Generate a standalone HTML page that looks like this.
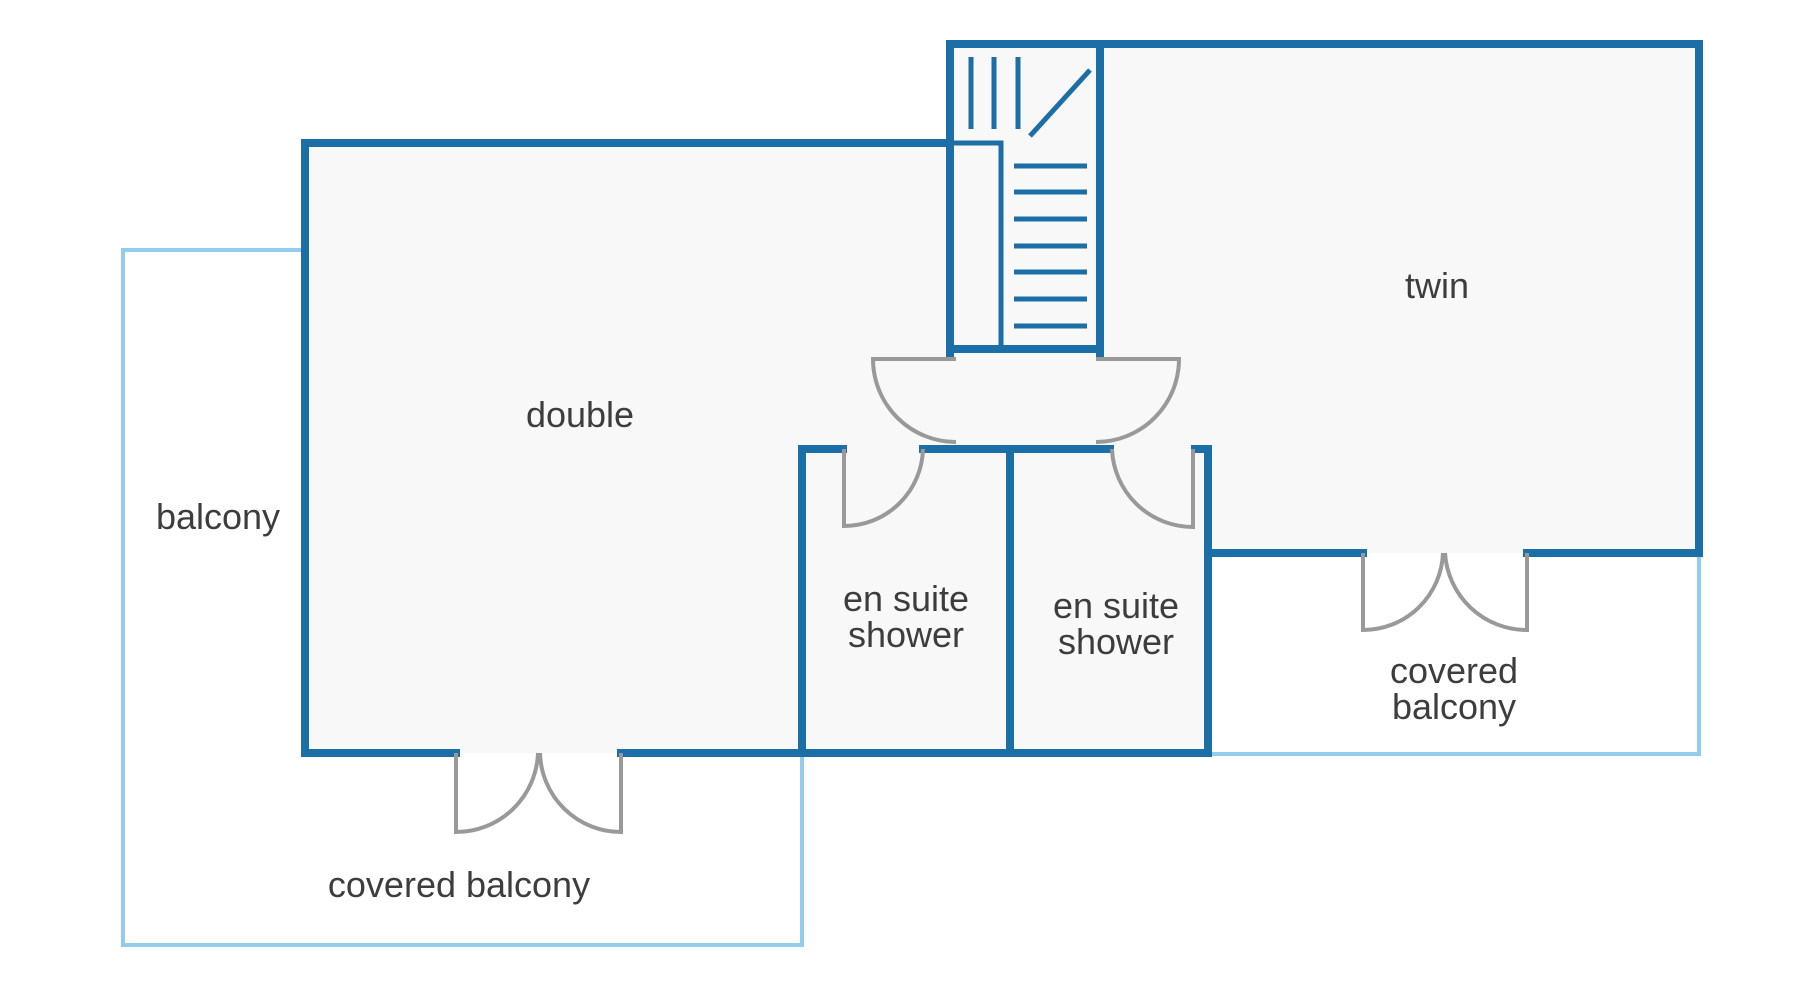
<!DOCTYPE html>
<html><head><meta charset="utf-8"><style>
html,body{margin:0;padding:0;background:#fff;}
svg{display:block}
text{font-family:"Liberation Sans",sans-serif;font-size:36px;fill:#3d3d3d;text-anchor:middle}
</style></head><body>
<svg width="1800" height="1000" viewBox="0 0 1800 1000" xmlns="http://www.w3.org/2000/svg">
<g fill="none" stroke="#92cdf0" stroke-width="4">
<polyline points="305,250 123,250 123,945 802,945 802,753"/>
<polyline points="1208,754 1699,754 1699,553"/>
</g>
<g fill="#f8f8f8">
<rect x="305" y="143" width="645" height="610"/>
<rect x="950" y="44" width="150" height="305"/>
<rect x="1100" y="44" width="599" height="509"/>
<rect x="950" y="349" width="258" height="100"/>
<rect x="802" y="449" width="406" height="304"/>
</g>
<g fill="none" stroke="#1b6ea6" stroke-width="8" stroke-linecap="square">
<polyline points="950,143 305,143 305,753 456,753"/>
<line x1="621" y1="753" x2="1208" y2="753"/>
<polyline points="950,353 950,44 1699,44"/>
<line x1="1100" y1="44" x2="1100" y2="353"/>
<line x1="950" y1="349" x2="1100" y2="349"/>
<polyline points="1699,44 1699,553 1527,553"/>
<line x1="1363" y1="553" x2="1208" y2="553"/>
<polyline points="843,449 802,449 802,753"/>
<line x1="923" y1="449" x2="1110" y2="449"/>
<line x1="1010" y1="449" x2="1010" y2="753"/>
<polyline points="1195,449 1208,449 1208,753"/>
</g>
<g stroke="#1b6ea6" stroke-width="5" fill="none">
<polyline points="950,143 1001,143 1001,349"/>
<line x1="1014" y1="166" x2="1087" y2="166"/>
<line x1="1014" y1="192" x2="1087" y2="192"/>
<line x1="1014" y1="219" x2="1087" y2="219"/>
<line x1="1014" y1="246" x2="1087" y2="246"/>
<line x1="1014" y1="272" x2="1087" y2="272"/>
<line x1="1014" y1="299" x2="1087" y2="299"/>
<line x1="1014" y1="326" x2="1087" y2="326"/>
<line x1="971" y1="57" x2="971" y2="129"/>
<line x1="994" y1="57" x2="994" y2="129"/>
<line x1="1018" y1="57" x2="1018" y2="129"/>
<line x1="1090" y1="70" x2="1030" y2="136"/>
</g>
<g fill="none" stroke="#999" stroke-width="4">
<path d="M956,359 L873,359 A83,83 0 0 0 956,442"/>
<path d="M1096,359 L1179,359 A83,83 0 0 1 1096,442"/>
<path d="M844,449 L844,526 A79,79 0 0 0 923,449"/>
<path d="M1193,449 L1193,527 A81,81 0 0 1 1112,449"/>
<path d="M1363,553 L1363,630 A80,80 0 0 0 1443,553"/>
<path d="M1527,553 L1527,630 A82,82 0 0 1 1445,553"/>
<path d="M456,753 L456,832 A82,82 0 0 0 538,753"/>
<path d="M621,753 L621,832 A81,81 0 0 1 540,753"/>
</g>
<text x="580" y="427">double</text>
<text x="1437" y="298">twin</text>
<text x="218" y="529">balcony</text>
<text x="906" y="611">en suite</text>
<text x="906" y="647">shower</text>
<text x="1116" y="618">en suite</text>
<text x="1116" y="654">shower</text>
<text x="1454" y="683">covered</text>
<text x="1454" y="719">balcony</text>
<text x="459" y="897">covered balcony</text>
</svg>
</body></html>
